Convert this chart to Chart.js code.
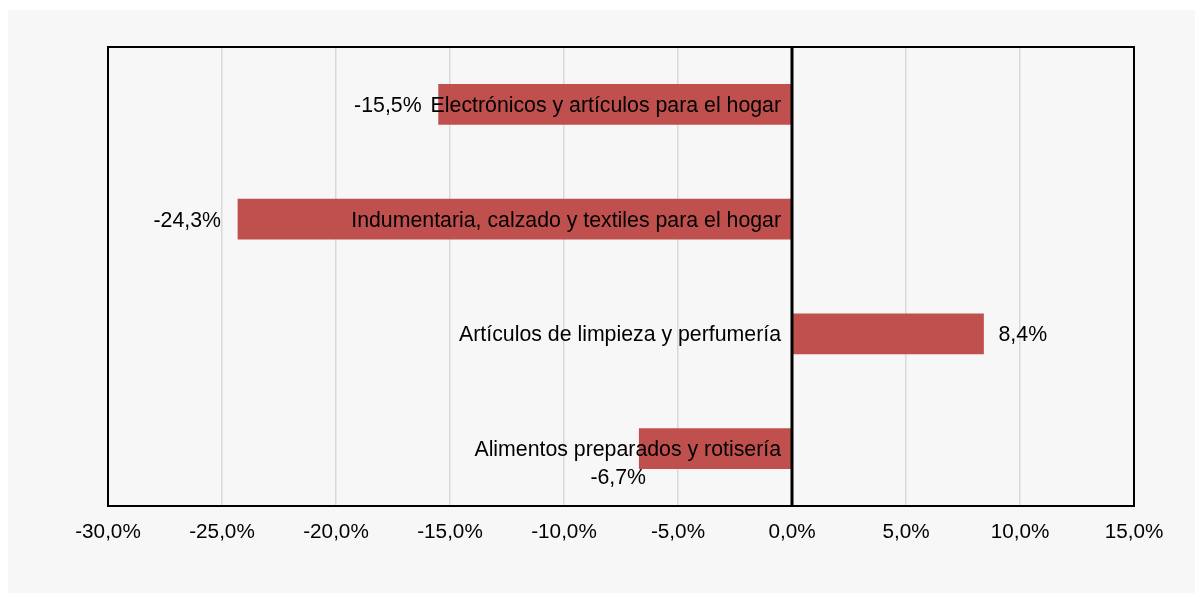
<!DOCTYPE html>
<html>
<head>
<meta charset="utf-8">
<script src="https://cdn.jsdelivr.net/npm/chart.js@4/dist/chart.umd.min.js"></script>
<style>
  html, body { margin: 0; padding: 0; background: #ffffff; width: 1203px; height: 593px; overflow: hidden; }
  #panel { position: absolute; left: 8px; top: 10px; width: 1187px; height: 583px; background: #f7f7f7; }
  canvas { display: block; }
</style>
</head>
<body>
<div id="panel"><canvas id="c" width="1187" height="583"></canvas></div>
<script>
const categories = [
  "Electrónicos y artículos para el hogar",
  "Indumentaria, calzado y textiles para el hogar",
  "Artículos de limpieza y perfumería",
  "Alimentos preparados y rotisería"
];
const values = [-15.5, -24.3, 8.4, -6.7];
const valueLabels = ["-15,5%", "-24,3%", "8,4%", "-6,7%"];
const xTicks = [-30, -25, -20, -15, -10, -5, 0, 5, 10, 15];

const FONT = '"Liberation Sans", Arial, Helvetica, sans-serif';
const FSIZE = 20.7;
const LSIZE = 21.3;

function fmtPct(v) {
  return v.toFixed(1).replace('.', ',') + '%';
}

const labelPlugin = {
  id: 'labels',
  afterDraw(chart) {
    const ctx = chart.ctx;
    const xs = chart.scales.x, ys = chart.scales.y;
    const area = chart.chartArea;
    const x0 = xs.getPixelForValue(0);
    ctx.save();
    ctx.strokeStyle = '#000';
    ctx.lineWidth = 3;
    ctx.beginPath();
    ctx.moveTo(x0, area.top);
    ctx.lineTo(x0, area.bottom);
    ctx.stroke();
    ctx.lineWidth = 2;
    ctx.strokeRect(area.left, area.top, area.right - area.left, area.bottom - area.top);

    ctx.font = LSIZE + 'px ' + FONT;
    ctx.fillStyle = '#000';
    ctx.textBaseline = 'middle';
    categories.forEach((cat, i) => {
      const y = ys.getPixelForValue(i) + 1.5;
      ctx.textAlign = 'right';
      ctx.fillText(cat, x0 - 11, y);
      const v = values[i];
      const xe = xs.getPixelForValue(v);
      if (i === 3) {
        ctx.textAlign = 'center';
        ctx.fillText(valueLabels[i], xe - 21, y + 28);
      } else if (v < 0) {
        ctx.textAlign = 'right';
        ctx.fillText(valueLabels[i], xe - 17, y);
      } else {
        ctx.textAlign = 'left';
        ctx.fillText(valueLabels[i], xe + 15, y);
      }
    });
    ctx.restore();
  }
};

new Chart(document.getElementById('c'), {
  type: 'bar',
  data: {
    labels: categories,
    datasets: [{
      data: values,
      backgroundColor: '#c0504d',
      borderWidth: 0,
      barThickness: 40,
      categoryPercentage: 1.0
    }]
  },
  options: {
    indexAxis: 'y',
    responsive: false,
    animation: false,
    devicePixelRatio: 1,
    layout: { padding: { left: 100, top: 37, right: 61, bottom: 0 } },
    plugins: { legend: { display: false }, tooltip: { enabled: false } },
    scales: {
      x: {
        min: -30, max: 15,
        afterBuildTicks(scale) { scale.ticks = xTicks.map(v => ({ value: v })); },
        afterFit(scale) { scale.height = 87; },
        ticks: {
          color: '#000',
          font: { family: FONT, size: FSIZE },
          padding: 14,
          maxRotation: 0,
          callback: v => fmtPct(v)
        },
        grid: {
          color: '#d9d9d9',
          lineWidth: 1.5,
          drawTicks: false
        },
        border: { display: false }
      },
      y: {
        display: false,
        grid: { display: false }
      }
    }
  },
  plugins: [labelPlugin]
});
</script>
</body>
</html>
